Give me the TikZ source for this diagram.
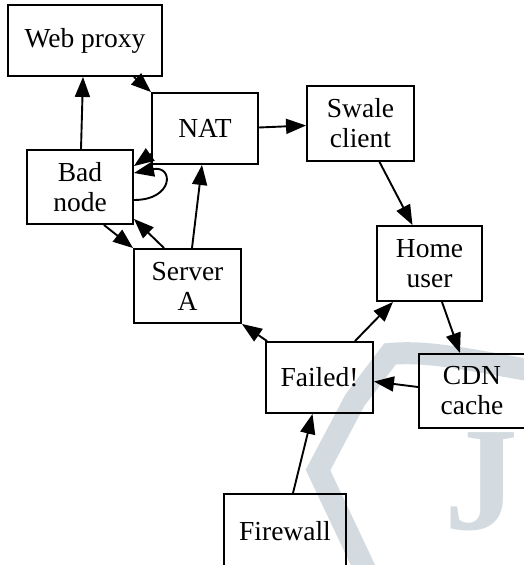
\documentclass[tikz,border=0pt]{standalone}
\usepackage{fontspec}
\setmainfont{Liberation Serif}
\usetikzlibrary{arrows.meta}
\definecolor{wmgray}{RGB}{211,219,224}

\begin{document}
\begin{tikzpicture}[x=1pt,y=-1pt,
  box/.style={draw=black,line width=1.9pt,rectangle,align=center,font=\fontsize{27.5}{30}\selectfont},
  edge/.style={draw=black,line width=1.9pt,-{Triangle[length=20pt,width=15pt]}},
  wmark/.style={draw=wmgray,line width=22pt,line join=miter}]
\tikzstyle{every node}+=[inner sep=0pt]
\useasboundingbox (0,0) rectangle (523,565);
\fill [white] (0,0) rectangle (523,565);
\draw [wmark] (370,580) -- (318,470) -- (355,400) -- (390,354) .. controls (430,350) and (480,362) .. (540,372);
\node [text=wmgray,anchor=base west,font=\bfseries\fontsize{148}{148}\selectfont] (wmj) at (444,529) {J};
\node [box,minimum width=154pt,minimum height=71pt] (web) at (85,40.5) {Web proxy};
\node [box,minimum width=106pt,minimum height=71pt] (nat) at (205,128.5) {NAT};
\node [box,minimum width=106pt,minimum height=74pt] (bad) at (80,187) {Bad\\node};
\node [box,minimum width=107pt,minimum height=74pt] (srv) at (187.5,286) {Server\\A};
\node [box,minimum width=107pt,minimum height=75pt] (swale) at (360.5,123.5) {Swale\\client};
\node [box,minimum width=105pt,minimum height=75pt] (home) at (429.5,263.5) {Home\\user};
\node [box,minimum width=107pt,minimum height=71pt] (failed) at (319.5,377.5) {Failed!};
\node [box,minimum width=106pt,minimum height=74pt] (cdn) at (472,391) {CDN\\cache};
\node [box,minimum width=122pt,minimum height=74pt] (fw) at (285,531) {Firewall};
\draw [edge] ([xshift=1pt]bad.north) -- ([xshift=-2pt]web.south);
\draw [edge] ([xshift=-29pt]web.south east) -- (nat.north west);
\draw [edge] ([yshift=11pt]nat.south west) -- ([yshift=-17pt]bad.north east);
\draw [edge] ([yshift=-13pt]bad.east) .. controls +(40pt,0pt) and +(40pt,8pt) .. ([yshift=14pt]bad.east);
\draw [edge] ([xshift=-30pt]bad.south east) -- (srv.north west);
\draw [edge] ([xshift=31pt]srv.north west) -- ([yshift=6pt]bad.south east);
\draw [edge] ([xshift=4.5pt]srv.north) -- ([xshift=-3pt]nat.south);
\draw [edge] ([yshift=1pt]nat.east) -- ([yshift=-2pt]swale.west);
\draw [edge] ([xshift=19pt]swale.south) -- ([xshift=-17pt]home.north);
\draw [edge] ([xshift=35.5pt]failed.north) -- ([xshift=-36.5pt]home.south);
\draw [edge] ([xshift=12.5pt]home.south) -- ([xshift=-12pt]cdn.north);
\draw [edge] ([yshift=4pt]cdn.west) -- ([yshift=-4pt]failed.east);
\draw [edge] ([xshift=2pt]failed.north west) -- (srv.south east);
\draw [edge] ([xshift=8pt]fw.north) -- ([xshift=-7pt]failed.south);
\end{tikzpicture}
\end{document}
